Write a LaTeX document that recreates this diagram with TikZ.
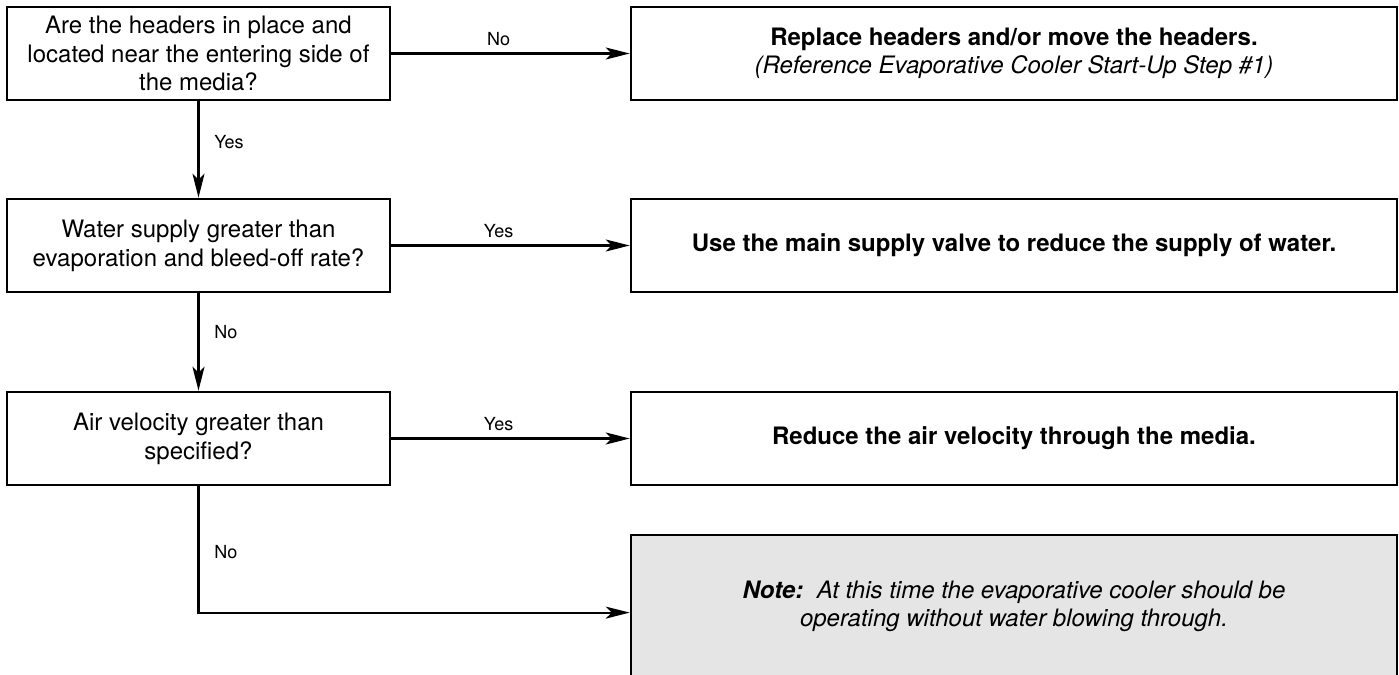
\documentclass[tikz,border=0pt]{standalone}
\usepackage{fontspec}
\setmainfont{TeX Gyre Heros}
\usepackage{tikz}
\usetikzlibrary{arrows.meta}
\definecolor{notegrey}{RGB}{229,229,229}

\begin{document}
\begin{tikzpicture}[x=0.5pt, y=-0.5pt,
    >={Stealth[length=12pt, width=6pt, inset=3pt]},
    question/.style={draw, line width=1.3pt, minimum width=191.5pt, minimum height=46.5pt,
      align=center, inner sep=0pt, font=\fontsize{12}{14.4}\selectfont},
    action/.style={question, minimum width=383pt, font=\fontsize{12}{14}\selectfont\bfseries},
    notebox/.style={action, fill=notegrey, minimum height=71pt, font=\fontsize{12}{14}\selectfont\itshape},
    flow/.style={->, line width=1.1pt},
    lbl/.style={font=\fontsize{9}{10}\selectfont}]
      \useasboundingbox (0,0) rectangle (1399,675);
      % Questions
      \node[question] (q1) at (198.5,53.5) {Are the headers in place and\\located near the entering side of\\the media?};
      \node[question] (q2) at (198.5,245.5) {Water supply greater than\\evaporation and bleed-off rate?};
      \node[question] (q3) at (198.5,438.5) {Air velocity greater than\\specified?};
      % Actions
      \node[action] (a1) at (1014,53.5) {Replace headers and/or move the headers.\\{\mdseries\itshape (Reference Evaporative Cooler Start-Up Step \#1)}};
      \node[action] (a2) at (1014,245.5) {Use the main supply valve to reduce the supply of water.};
      \node[action] (a3) at (1014,438.5) {Reduce the air velocity through the media.};
      \node[notebox] (note) at (1014,606) {{\bfseries Note:}\ \ At this time the evaporative cooler should be\\operating without water blowing through.};
      % Connectors
      \draw[flow] (q1) -- node[lbl, above, pos=0.45]{No} (a1);
      \draw[flow] (q2) -- node[lbl, above, pos=0.45]{Yes} (a2);
      \draw[flow] (q3) -- node[lbl, above, pos=0.45]{Yes} (a3);
      \draw[flow] (q1) -- node[lbl, right=4pt, pos=0.42]{Yes} (q2);
      \draw[flow] (q2) -- node[lbl, right=4pt, pos=0.4]{No} (q3);
      \draw[flow] (q3.south) |- node[lbl, right=4pt, pos=0.26]{No} ([yshift=-3.3pt]note.west);
    \end{tikzpicture}
\end{document}
